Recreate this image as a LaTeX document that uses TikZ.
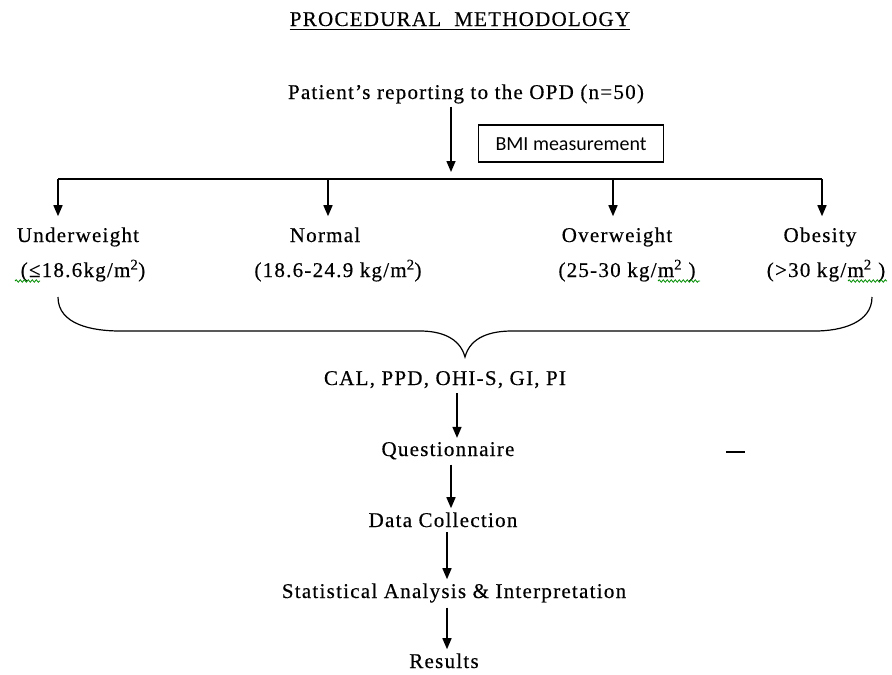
\documentclass[tikz,border=0pt]{standalone}
\usepackage{fontspec}
\setmainfont[LetterSpace=6,FakeBold=0.4]{Liberation Serif}
\newfontfamily\boxfont{Carlito}
\usetikzlibrary{arrows.meta,decorations.pathmorphing}

\begin{document}
\begin{tikzpicture}[
    x=1pt, y=-1pt,
    every node/.style={inner sep=0pt, anchor=base, font=\fontsize{21}{25}\selectfont},
    arr/.style={line width=1.5pt, -{Triangle[width=9pt,length=11pt]}},
    squig/.style={green!55!black, line width=0.8pt, decorate,
      decoration={snake, segment length=4pt, amplitude=1.2pt}}
  ]
  \useasboundingbox (0,0) rectangle (892,675);
  % heading
  \node (title) at (460,26) {PROCEDURAL\ \ METHODOLOGY};
  \draw[line width=1pt] ([yshift=-3pt]title.base west) -- ([yshift=-3pt]title.base east);
  \node (patient) at (466,99) {Patient’s reporting to the OPD (n=50)};
  \node[draw, line width=1.2pt, anchor=center, text height=13pt, text depth=0pt,
        inner xsep=17pt, inner ysep=12pt, font=\boxfont\fontsize{20}{24}\selectfont]
        (bmi) at (571,143.5) {BMI measurement};
  % split into the four groups
  \coordinate (split) at (451,179);
  \draw[arr, shorten <=3pt, shorten >=7pt] (patient.south -| split) -- (split);
  \node (uw) at (78,242) {Underweight};
  \node (uwr) at (83,277) {(≤18.6kg/m\textsuperscript{2})};
  \node (nm) at (325,242) {Normal};
  \node (nmr) at (338,277) {(18.6-24.9 kg/m\textsuperscript{2})};
  \node (ow) at (617,242) {Overweight};
  \node (owr) at (627,277) {(25-30 kg/m\textsuperscript{2} )};
  \node (ob) at (820,242) {Obesity};
  \node (obr) at (826,277) {(>30 kg/m\textsuperscript{2} )};
  \foreach \nm/\x in {uw/58, nm/328, ow/613, ob/822}
    \coordinate (d\nm) at (\x,179);
  \draw[line width=1.5pt] (duw) -- (dob);
  \foreach \nm in {uw, nm, ow, ob}
    \draw[arr, shorten >=11pt] (d\nm) -- (d\nm |- \nm.north);
  % spelling marks
  \draw[squig] (15,281) -- (40,281);
  \draw[squig] (658,281) -- (700,281);
  \draw[squig] (848,281) -- (887,281);
  % brace
  \coordinate (bl) at (58,297);
  \coordinate (br) at (872,297);
  \coordinate (cusp) at (465,357);
  \draw[line width=1.2pt] (bl) to[out=-90,in=180] (120,331) -- (420,331)
    to[out=0,in=105] (cusp) to[out=75,in=180] (512,331) -- (815,331)
    to[out=0,in=-90] (br);
  % chain below
  \node (cal) at (445,385) {CAL, PPD, OHI-S, GI, PI};
  \node (q) at (448,456) {Questionnaire};
  \node (dc) at (443,527) {Data Collection};
  \node (sa) at (454,598) {Statistical Analysis \& Interpretation};
  \node (res) at (444,668) {Results};
  \coordinate (k1) at (457,0);
  \coordinate (k2) at (451,0);
  \coordinate (k3) at (447,0);
  \coordinate (k4) at (447,0);
  \foreach \a/\b/\k in {cal/q/k1, q/dc/k2, dc/sa/k3, sa/res/k4}
    \draw[arr, shorten <=5pt, shorten >=4pt] (\a.south -| \k) -- (\b.north -| \k);
  \draw[line width=1.3pt] (726,452) -- (745,452);
\end{tikzpicture}
\end{document}
